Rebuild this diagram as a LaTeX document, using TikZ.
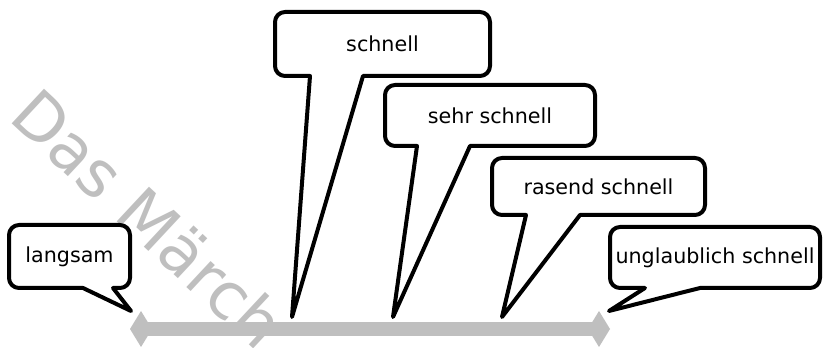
\documentclass[tikz,border=0pt]{standalone}
\usepackage{fontspec}
\setmainfont{DejaVu Sans}
\definecolor{axisgray}{RGB}{191,191,191}
\tikzset{
  bubble/.style={draw=black, fill=white, line width=3pt, line join=round},
  bubbletext/.style={font=\fontsize{15.5}{18}\selectfont, inner sep=0pt},
  watermark/.style={font=\fontsize{48.75}{58}\selectfont, text=axisgray, inner sep=0pt},
  axisbar/.style={draw=axisgray, line width=10.5pt},
  axisend/.style={fill=axisgray}
}
% corner radius of the speech bubbles
\def\br{10}
% #1,#2 top-left, #3,#4 bottom-right, #5,#6 tail base on bottom edge, #7,#8 tail tip
\newcommand\bubblepath[8]{%
  \draw[bubble] ({#1+\br},#2) -- ({#3-\br},#2)
    arc[start angle=-90, end angle=0, radius=\br] -- (#3,{#4-\br})
    arc[start angle=0, end angle=90, radius=\br] -- (#6,#4) -- (#7,#8) -- (#5,#4) -- ({#1+\br},#4)
    arc[start angle=90, end angle=180, radius=\br] -- (#1,{#2+\br})
    arc[start angle=180, end angle=270, radius=\br] -- cycle;}
\begin{document}
\begin{tikzpicture}[x=0.75pt, y=-0.75pt]
  \clip (0,0) rectangle (824,348);
  \fill[white] (0,0) rectangle (824,348);

  % watermark
  \node[watermark, rotate=-43, anchor=base west] (wm) at (7,119) {Das Märch};

  % scale axis
  \coordinate (axL) at (141,329);
  \coordinate (axR) at (599,329);
  \draw[axisbar] (axL) -- (axR);
  \fill[axisend] (axL) ++(-11,0) -- ++(11,-18) -- ++(11,18) -- ++(-11,18) -- cycle;
  \fill[axisend] (axR) ++(-11,0) -- ++(11,-18) -- ++(11,18) -- ++(-11,18) -- cycle;

  % speech bubbles, back to front
  \bubblepath{9}{225}{130}{288}{83}{113}{131}{311}
  \node[bubbletext] (t1) at (69.5,256.5) {langsam};

  \bubblepath{275}{12}{490}{76}{310}{363}{292}{317}
  \node[bubbletext] (t2) at (382.5,44) {schnell};

  \bubblepath{385}{85}{595}{146}{417}{470}{393}{317}
  \node[bubbletext] (t3) at (490,115.5) {sehr schnell};

  \bubblepath{492}{158}{705}{215}{526}{580}{502}{317}
  \node[bubbletext] (t4) at (598.5,186.5) {rasend schnell};

  \bubblepath{610}{227}{820}{288}{645}{700}{609}{311}
  \node[bubbletext] (t5) at (715,257.5) {unglaublich schnell};
\end{tikzpicture}
\end{document}
